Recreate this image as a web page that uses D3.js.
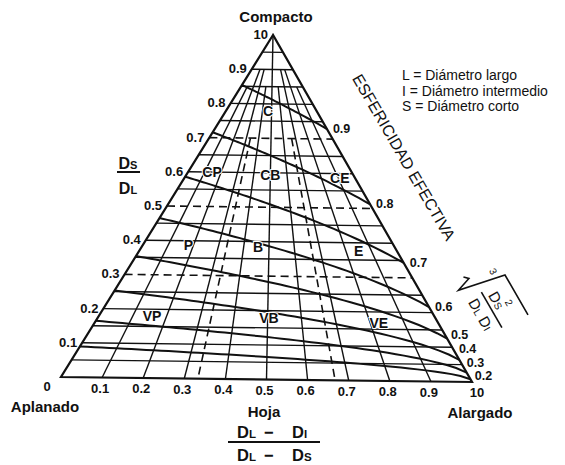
<!DOCTYPE html>
<html>
<head>
<meta charset="utf-8">
<script src="https://cdn.jsdelivr.net/npm/d3@7"></script>
<style>
body { margin: 0; background: #fff; }
svg { display: block; font-family: "Liberation Sans", Arial, sans-serif; }
</style>
</head>
<body>
<svg id="chart" width="565" height="465"></svg>
<script>
// S/L (Ds/DL) levels, 0 at the base, 1 at the apex
var leftTicks = [0.1, 0.2, 0.3, 0.4, 0.5, 0.6, 0.7, 0.8, 0.9];
var gridS = [0.05, 0.1, 0.15, 0.2, 0.25, 0.35, 0.4, 0.45, 0.55, 0.6, 0.65, 0.75, 0.8, 0.85, 0.9, 0.95];
var dashedS = [0.3, 0.5, 0.7];

// (DL-DI)/(DL-DS) along the base
var baseTicks = [0.1, 0.2, 0.3, 0.4, 0.5, 0.6, 0.7, 0.8, 0.9];
var gridTopS = [0.85, 0.9, 0.9, 0.85, 1, 0.85, 0.9, 0.9, 0.85];
var dashedT = [0.333, 0.667];

// effective sphericity isolines
var sphericity = [0.9, 0.8, 0.7, 0.6, 0.5, 0.4, 0.3, 0.2];

var classNames = ['C', 'CP', 'CB', 'CE', 'P', 'B', 'E', 'VP', 'VB', 'VE'];
var classT = [0.46, 0.145, 0.5, 0.91, 0.18, 0.457, 0.85, 0.157, 0.504, 0.825];
var classS = [0.78, 0.6, 0.594, 0.588, 0.387, 0.385, 0.376, 0.18, 0.178, 0.167];

var legend = ['L = Diámetro largo', 'I = Diámetro intermedio', 'S = Diámetro corto'];

var svg = d3.select('#chart');

var apex = [273, 35], left = [61, 377], right = [472, 382];

var tx = d3.scaleLinear().domain([0, 1]).range([left[0], right[0]]);
var ty = d3.scaleLinear().domain([0, 1]).range([left[1], right[1]]);

// t = (DL-DI)/(DL-DS), s = DS/DL
function pt(t, s) {
    var bx = tx(t), by = ty(t);
    return [bx + (apex[0] - bx) * s, by + (apex[1] - by) * s];
}

// DS/DL on an isoline psi = cbrt(DS^2 / (DL DI)), with DL = 1
function sphereS(psi, t) {
    var k = psi * psi * psi;
    return (k * t + Math.sqrt(k * k * t * t + 4 * k * (1 - t))) / 2;
}

var line = d3.line();
var g = svg.append('g').attr('fill', 'none').attr('stroke', '#111');

// horizontal grid
g.selectAll('.hs').data(gridS).enter().append('path')
    .attr('d', s => line([pt(0, s), pt(1, s)]))
    .attr('stroke-width', 1.4);

// radiating grid
g.selectAll('.rt').data(baseTicks).enter().append('path')
    .attr('d', (t, i) => line([pt(t, gridTopS[i]), pt(t, 0)]))
    .attr('stroke-width', 1.4);

// class boundaries
g.selectAll('.ds').data(dashedS).enter().append('path')
    .attr('d', s => line([pt(0, s), pt(1, s)]))
    .attr('stroke-width', 1.6)
    .attr('stroke-dasharray', '8,5');

g.selectAll('.dt').data(dashedT).enter().append('path')
    .attr('d', t => line([pt(t, 0.7), pt(t, 0)]))
    .attr('stroke-width', 1.6)
    .attr('stroke-dasharray', '8,5');

// sphericity curves
var steps = d3.range(0, 1.0001, 0.02);
g.selectAll('.sp').data(sphericity).enter().append('path')
    .attr('d', psi => line(steps.map(t => pt(t, sphereS(psi, t)))))
    .attr('stroke-width', 2);

// outline
g.append('path')
    .attr('d', line([apex, left, right]) + 'Z')
    .attr('stroke-width', 2.2)
    .attr('stroke-linejoin', 'miter');

var txt = svg.append('g').attr('fill', '#111').attr('font-weight', 'bold');

// left edge labels
txt.selectAll('.lt').data(leftTicks).enter().append('text')
    .attr('x', s => pt(0, s)[0] - 5)
    .attr('y', s => pt(0, s)[1] + 4)
    .attr('text-anchor', 'end')
    .attr('font-size', 13)
    .text(d => d);

txt.append('text').attr('x', apex[0] - 5).attr('y', apex[1] + 4)
    .attr('text-anchor', 'end').attr('font-size', 13).text('10');

// base labels
txt.selectAll('.bt').data(baseTicks).enter().append('text')
    .attr('x', t => pt(t, 0)[0] - 2)
    .attr('y', t => pt(t, 0)[1] + 15)
    .attr('text-anchor', 'middle')
    .attr('font-size', 13)
    .text(d => d);

txt.append('text').attr('x', left[0] - 14).attr('y', left[1] + 14)
    .attr('text-anchor', 'middle').attr('font-size', 13).text('0');
txt.append('text').attr('x', right[0] + 5).attr('y', right[1] + 15)
    .attr('text-anchor', 'middle').attr('font-size', 13).text('10');

// sphericity labels on the right edge, spread where the curves bunch up
var labelS = sphericity.map(psi => Math.pow(psi, 3));
for (var i = labelS.length - 1; i >= 0; i--) {
    var lo = i === labelS.length - 1 ? 0.016 : labelS[i + 1] + 0.04;
    labelS[i] = Math.max(labelS[i], lo);
}
txt.selectAll('.sl').data(sphericity).enter().append('text')
    .attr('x', (d, i) => pt(1, labelS[i])[0] + 6)
    .attr('y', (d, i) => pt(1, labelS[i])[1] + 4)
    .attr('font-size', 12.5)
    .text(d => d);

// class names
txt.selectAll('.cl').data(classNames).enter().append('text')
    .attr('x', (d, i) => pt(classT[i], classS[i])[0])
    .attr('y', (d, i) => pt(classT[i], classS[i])[1] + 5)
    .attr('text-anchor', 'middle')
    .attr('font-size', 14)
    .attr('stroke', '#fff')
    .attr('stroke-width', 2)
    .attr('paint-order', 'stroke')
    .text(d => d);

// corner titles
txt.append('text').attr('x', 276).attr('y', 22).attr('text-anchor', 'middle')
    .attr('font-size', 15).text('Compacto');
txt.append('text').attr('x', 45).attr('y', 412).attr('text-anchor', 'middle')
    .attr('font-size', 15).text('Aplanado');
txt.append('text').attr('x', 480).attr('y', 418).attr('text-anchor', 'middle')
    .attr('font-size', 15).text('Alargado');
txt.append('text').attr('x', 264).attr('y', 417).attr('text-anchor', 'middle')
    .attr('font-size', 15).text('Hoja');

// D with a small-cap subscript
function dText(sel, parts, big, small) {
    parts.forEach(p => {
        sel.append('tspan').attr('font-size', p[1] ? small : big).text(p[0]);
    });
    return sel;
}

// Ds / DL on the left
dText(txt.append('text').attr('x', 128).attr('y', 169).attr('text-anchor', 'middle'),
    [['D', 0], ['S', 1]], 16, 11);
dText(txt.append('text').attr('x', 128).attr('y', 194).attr('text-anchor', 'middle'),
    [['D', 0], ['L', 1]], 16, 11);
svg.append('line').attr('x1', 117).attr('x2', 140).attr('y1', 172).attr('y2', 172)
    .attr('stroke', '#111').attr('stroke-width', 2);

// (DL - DI) / (DL - DS) under the base
var num = dText(txt.append('text').attr('x', 237).attr('y', 438), [['D', 0], ['L', 1]], 16.5, 11.5);
num.append('tspan').attr('x', 264).attr('font-size', 16.5).text('−');
dText(num.append('tspan').attr('x', 292), [['D', 0], ['I', 1]], 16.5, 11.5);
var den = dText(txt.append('text').attr('x', 237).attr('y', 461), [['D', 0], ['L', 1]], 16.5, 11.5);
den.append('tspan').attr('x', 264).attr('font-size', 16.5).text('−');
dText(den.append('tspan').attr('x', 292), [['D', 0], ['S', 1]], 16.5, 11.5);
svg.append('line').attr('x1', 228).attr('x2', 320).attr('y1', 442).attr('y2', 442)
    .attr('stroke', '#111').attr('stroke-width', 2);

// legend
svg.append('g').selectAll('text').data(legend).enter().append('text')
    .attr('x', 402)
    .attr('y', (d, i) => 80 + i * 15.5)
    .attr('font-size', 14)
    .attr('fill', '#111')
    .text(d => d);

// title along the right edge
svg.append('text')
    .attr('transform', 'translate(399,160) rotate(60)')
    .attr('text-anchor', 'middle')
    .attr('font-size', 16)
    .attr('fill', '#111')
    .text('ESFERICIDAD EFECTIVA');

// cube root formula, rotated with the edge
var rad = svg.append('g')
    .attr('transform', 'translate(505,275) rotate(60)')
    .attr('fill', '#111');
rad.append('path')
    .attr('d', 'M-19,37L-15,33L-10,48L0,0L46,0')
    .attr('fill', 'none').attr('stroke', '#111').attr('stroke-width', 1.6);
rad.append('line').attr('x1', 3).attr('x2', 44).attr('y1', 29).attr('y2', 29)
    .attr('stroke', '#111').attr('stroke-width', 1.6);
rad.append('text').attr('x', -9).attr('y', 12).attr('text-anchor', 'middle')
    .attr('font-size', 10).text('3');
dText(rad.append('text').attr('x', 9).attr('y', 25), [['D', 0], ['S', 1]], 15, 10);
rad.append('text').attr('x', 23).attr('y', 14).attr('font-size', 10).text('2');
var dd = dText(rad.append('text').attr('x', 5).attr('y', 46), [['D', 0], ['L', 1]], 15, 10);
dText(dd.append('tspan').attr('dx', 4), [['D', 0], ['I', 1]], 15, 10);
</script>
</body>
</html>
